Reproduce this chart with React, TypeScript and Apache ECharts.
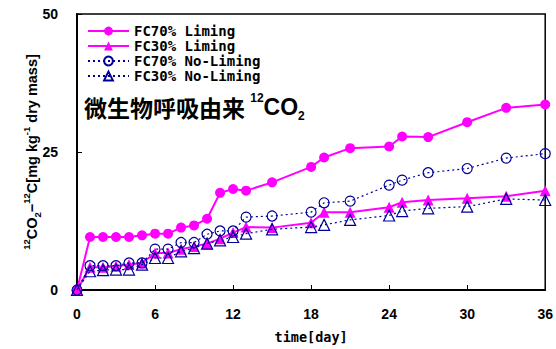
import React, { useEffect, useRef } from "react";
import * as echarts from "echarts";

const days = [0, 1, 2, 3, 4, 5, 6, 7, 8, 9, 10, 11, 12, 13, 15, 18, 19, 21, 24, 25, 27, 30, 33, 36];
const fc70Liming = [0, 9.6, 9.6, 9.6, 9.6, 9.9, 10.2, 10.2, 11.3, 11.7, 12.9, 17.6, 18.3, 18.0, 19.5, 22.3, 24.0, 25.7, 26.0, 27.8, 27.7, 30.4, 33.0, 33.6];
const fc30Liming = [0, 4.1, 4.1, 4.3, 4.6, 4.9, 6.7, 6.7, 7.4, 7.9, 8.4, 9.3, 10.4, 11.4, 11.3, 12.2, 14.1, 14.1, 15.0, 15.9, 16.3, 16.6, 17.0, 18.0];
const fc70NoLiming = [0, 4.4, 4.4, 4.4, 4.9, 4.9, 7.4, 7.4, 8.6, 8.6, 10.1, 10.7, 10.7, 13.2, 13.4, 14.1, 15.8, 16.1, 19.0, 19.9, 21.25, 22.0, 23.9, 24.7];
const fc30NoLiming = [0, 3.4, 3.6, 3.7, 3.7, 4.6, 5.8, 5.8, 7.0, 7.6, 8.4, 9.0, 9.6, 10.2, 11.0, 11.4, 11.8, 12.7, 13.5, 14.3, 14.8, 15.1, 16.5, 16.3];
const seriesNames = ["FC70% Liming", "FC30% Liming", "FC70% No-Liming", "FC30% No-Liming"];

const FONT = "'Liberation Sans', 'Noto Sans CJK JP', sans-serif";
const MONO = "'DejaVu Sans Mono', monospace";
const MAGENTA = "#ff00ff";
const BLUE = "#000099";

const pairs = (ys: number[]) => days.map((d, i) => [d, ys[i]]);

export default function App() {
  const ref = useRef<HTMLDivElement>(null);
  useEffect(() => {
    const chart = echarts.init(ref.current!, null, { renderer: "svg" });
    const filled = (name: string, ys: number[], symbol: string, size: number) => ({
      name,
      type: "line",
      data: pairs(ys),
      symbol,
      symbolSize: size,
      showAllSymbol: true,
      itemStyle: { color: MAGENTA },
      lineStyle: { color: MAGENTA, width: 2 },
      z: 2,
    });
    const open = (name: string, ys: number[], symbol: string, size: number) => ({
      name,
      type: "line",
      data: pairs(ys),
      symbol,
      symbolSize: size,
      showAllSymbol: true,
      itemStyle: { color: "rgba(0,0,0,0)", borderColor: BLUE, borderWidth: 1.2 },
      lineStyle: { color: BLUE, width: 1.2, type: [2, 3] },
      z: 3,
    });
    chart.setOption({
      animation: false,
      backgroundColor: "#fff",
      grid: { left: 77, right: 7, top: 14, bottom: 55, show: true, borderColor: "#000", borderWidth: 1.5, backgroundColor: "transparent" },
      legend: {
        orient: "vertical",
        left: 82,
        top: 19,
        itemWidth: 41,
        itemHeight: 11,
        itemGap: 1,
        data: seriesNames,
        textStyle: { fontFamily: MONO, fontWeight: "bold", fontSize: 14, color: "#000" },
      },
      xAxis: {
        type: "value",
        min: 0,
        max: 36,
        interval: 6,
        name: "time[day]",
        nameLocation: "middle",
        nameGap: 40,
        nameMoveOverlap: false,
        nameTextStyle: { fontFamily: MONO, fontWeight: "bold", fontSize: 13.5, color: "#000" },
        axisLine: { lineStyle: { color: "#000", width: 2 } },
        axisTick: { inside: true, length: 5, lineStyle: { color: "#000", width: 1 } },
        axisLabel: { fontFamily: FONT, fontWeight: "bold", fontSize: 14, color: "#000", margin: 17 },
        splitLine: { show: false },
      },
      yAxis: {
        type: "value",
        min: 0,
        max: 50,
        interval: 25,
        name: "{sup|12}{n|CO}{sub|2}{n|−}{sup|12}{n|C[mg kg}{sup|-1}{n| dry mass]}",
        nameLocation: "middle",
        nameGap: 35,
        nameMoveOverlap: false,
        nameRotate: 90,
        nameTextStyle: {
          fontFamily: FONT,
          fontWeight: "bold",
          fontSize: 14,
          color: "#000",
          rich: {
            n: { fontFamily: FONT, fontWeight: "bold", fontSize: 14.5, lineHeight: 20, verticalAlign: "middle", color: "#000" },
            sup: { fontFamily: FONT, fontWeight: "bold", fontSize: 9.5, lineHeight: 20, verticalAlign: "top", color: "#000" },
            sub: { fontFamily: FONT, fontWeight: "bold", fontSize: 9.5, lineHeight: 20, verticalAlign: "bottom", color: "#000" },
          },
        },
        axisLine: { lineStyle: { color: "#000", width: 2 } },
        axisTick: { inside: true, length: 5, lineStyle: { color: "#000", width: 1 } },
        axisLabel: { fontFamily: FONT, fontWeight: "bold", fontSize: 14, color: "#000", margin: 19 },
        splitLine: { show: false },
      },
      graphic: [
        {
          type: "text",
          left: 84,
          top: 92,
          style: {
            text: "{c|微生物呼吸由来 }{sup|12}{n|CO}{sub|2}",
            rich: {
              c: { fontFamily: "'Noto Sans CJK JP', sans-serif", fontWeight: "bold", fontSize: 23, lineHeight: 30, verticalAlign: "middle", fill: "#000" },
              n: { fontFamily: FONT, fontWeight: "bold", fontSize: 23, lineHeight: 30, verticalAlign: "middle", fill: "#000" },
              sup: { fontFamily: FONT, fontWeight: "bold", fontSize: 12, lineHeight: 30, verticalAlign: "top", fill: "#000" },
              sub: { fontFamily: FONT, fontWeight: "bold", fontSize: 12, lineHeight: 30, verticalAlign: "bottom", fill: "#000" },
            },
          },
        },
      ],
      series: [
        filled(seriesNames[0], fc70Liming, "circle", 10),
        filled(seriesNames[1], fc30Liming, "triangle", 11),
        open(seriesNames[2], fc70NoLiming, "circle", 10),
        open(seriesNames[3], fc30NoLiming, "triangle", 11),
      ],
    });
    return () => chart.dispose();
  }, []);
  return <div ref={ref} style={{ position: "fixed", left: 0, top: 0, width: 556, height: 349 }} />;
}
